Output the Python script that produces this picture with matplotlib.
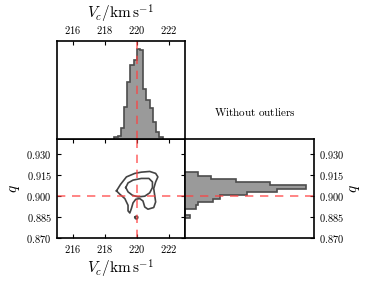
import matplotlib
matplotlib.use("Agg")
import matplotlib.pyplot as plt
import numpy as np
from matplotlib.ticker import FuncFormatter

plt.rcParams['mathtext.fontset'] = 'cm'
plt.rcParams['font.family'] = 'serif'
plt.rcParams['font.serif'] = ['DejaVu Serif']

# marginal histogram of V_c (bin edges and counts)
vc_edges = [218.6, 218.8, 219.0, 219.2, 219.4, 219.6, 219.8, 220.0,
            220.2, 220.4, 220.6, 220.8, 221.0, 221.2, 221.4, 221.6]
vc_counts = [2, 3, 11, 32, 57, 74, 79, 90, 89, 50, 39, 31, 17, 7, 2]

# marginal histogram of q (bin edges and counts)
q_edges = [0.8840, 0.88636, 0.88872, 0.89108, 0.89344, 0.8958, 0.89816,
           0.90052, 0.90288, 0.90524, 0.9076, 0.90996, 0.91232, 0.91468, 0.91704]
q_counts = [5, 0, 0, 11, 13, 28, 35, 62, 92, 121, 85, 51, 26, 13]

# contour lines of the joint distribution
outer_v = [218.73, 218.98, 219.35, 219.87, 220.28, 220.80, 221.17, 221.31, 221.17,
           221.05, 221.11, 221.17, 221.05, 220.69, 220.49, 220.38, 220.18, 219.93,
           219.76, 219.66, 219.56, 219.45, 219.45, 219.25, 218.94, 218.73]
outer_q = [0.9037, 0.9083, 0.9137, 0.9162, 0.9171, 0.9176, 0.9162, 0.9137, 0.9101,
           0.9054, 0.9006, 0.8958, 0.8918, 0.8906, 0.8922, 0.8965, 0.8982, 0.8977,
           0.8951, 0.8911, 0.8879, 0.8894, 0.8934, 0.8982, 0.9013, 0.9037]
inner_v = [219.31, 219.45, 219.76, 220.28, 220.75, 220.97, 220.97, 220.80,
           220.49, 220.07, 219.72, 219.45, 219.31]
inner_q = [0.9061, 0.9094, 0.9114, 0.9126, 0.9126, 0.9101, 0.9061, 0.9023,
           0.8999, 0.8994, 0.9006, 0.9030, 0.9061]
small_v = [219.88, 219.92, 220.0, 220.06, 220.04, 219.97, 219.90, 219.88]
small_q = [0.8848, 0.8855, 0.8856, 0.8850, 0.8840, 0.8836, 0.8840, 0.8848]

true_vc = 220.0
true_q = 0.900

vc_ticks = [216, 218, 220, 222]
q_ticks = [0.870, 0.885, 0.900, 0.915, 0.930]

fill_c = '#9a9a9a'
edge_c = '#4d4d4d'
line_c = '#444444'
red = (1.0, 0.25, 0.25, 0.75)
dash = (0, (5, 4))

fig = plt.figure(figsize=(3.71, 2.81), dpi=100)
L, M, R = 0.1526, 0.4987, 0.8464
B, C, T = 0.153, 0.5053, 0.854
ax_main = fig.add_axes([L, B, M - L, C - B])
ax_top = fig.add_axes([L, C, M - L, T - C])
ax_right = fig.add_axes([M, B, R - M, C - B])

vfmt = FuncFormatter(lambda v, p: r'$%d$' % v)
qfmt = FuncFormatter(lambda v, p: r'$%.3f$' % v)
lab = r'$V_c/\mathrm{km\,s^{-1}}$'

# main panel
ax_main.plot(outer_v, outer_q, color=line_c, lw=1.2)
ax_main.plot(inner_v, inner_q, color=line_c, lw=1.2)
ax_main.plot(small_v, small_q, color=line_c, lw=1.2)
ax_main.axvline(true_vc, color=red, ls=dash, lw=1.2)
ax_main.axhline(true_q, color=red, ls=dash, lw=1.2)
ax_main.set_xlim(215, 223)
ax_main.set_ylim(0.870, 0.9408)
ax_main.set_xticks(vc_ticks)
ax_main.set_yticks(q_ticks)
ax_main.xaxis.set_major_formatter(vfmt)
ax_main.yaxis.set_major_formatter(qfmt)
ax_main.tick_params(direction='in', top=True, right=True, labelsize=7.5, length=3)
ax_main.set_xlabel(lab, fontsize=11, labelpad=2)
ax_main.set_ylabel(r'$q$', fontsize=11, labelpad=3)

# top histogram
ax_top.stairs(vc_counts, vc_edges, fill=True, color=fill_c)
ax_top.stairs(vc_counts, vc_edges, color=edge_c, lw=1.2)
ax_top.axvline(true_vc, color=red, ls=dash, lw=1.2)
ax_top.set_xlim(215, 223)
ax_top.set_ylim(0, 98)
ax_top.set_xticks(vc_ticks)
ax_top.xaxis.set_major_formatter(vfmt)
ax_top.set_yticks([])
ax_top.xaxis.set_ticks_position('top')
ax_top.xaxis.set_label_position('top')
ax_top.tick_params(direction='in', labelsize=7.5, length=3)
ax_top.set_xlabel(lab, fontsize=11, labelpad=4)

# right histogram
ax_right.stairs(q_counts, q_edges, fill=True, color=fill_c, orientation='horizontal')
ax_right.stairs(q_counts, q_edges, color=edge_c, lw=1.2, orientation='horizontal')
ax_right.axhline(true_q, color=red, ls=dash, lw=1.2)
ax_right.set_ylim(0.870, 0.9408)
ax_right.set_xlim(0, 129)
ax_right.set_xticks([])
ax_right.set_yticks(q_ticks)
ax_right.yaxis.set_major_formatter(qfmt)
ax_right.yaxis.set_ticks_position('right')
ax_right.yaxis.set_label_position('right')
ax_right.tick_params(direction='in', labelsize=7.5, length=3)
ax_right.set_ylabel(r'$q$', fontsize=11, labelpad=3)

for ax in (ax_main, ax_top, ax_right):
    for s in ax.spines.values():
        s.set_linewidth(1.2)

fig.text(0.687, 0.60, r'$\mathrm{Without\ outliers}$', fontsize=8, ha='center', va='center')

fig.savefig('out.png', dpi=100)
